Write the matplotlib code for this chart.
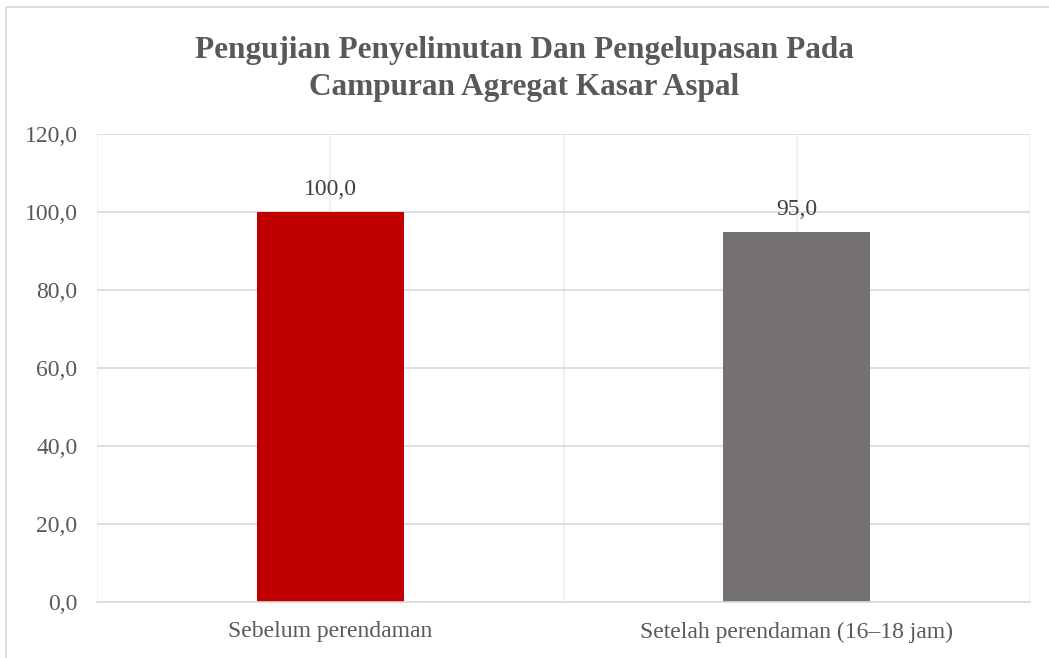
import matplotlib.pyplot as plt
from matplotlib.patches import Rectangle
from matplotlib.ticker import FuncFormatter, MultipleLocator

categories = ["Sebelum perendaman", "Setelah perendaman (16\u201318 jam)"]
values = [100.0, 95.0]
bar_colors = ["#c00000", "#767171"]
title = "Pengujian Penyelimutan Dan Pengelupasan Pada\nCampuran Agregat Kasar Aspal"

plt.rcParams["font.family"] = ["Liberation Serif", "DejaVu Serif"]

fig = plt.figure(figsize=(10.49, 6.58), dpi=100)
ax = fig.add_axes([97 / 1049, 1 - 602 / 658, (1030 - 97) / 1049, (602 - 134) / 658])

x = list(range(len(categories)))
bars = ax.bar(x, values, width=0.315, color=bar_colors, zorder=3)
for xi, v in zip(x, values):
    ax.text(xi, v + 3, f"{v:.1f}".replace(".", ","), ha="center", va="bottom",
            fontsize=17, color="#404040")

ax.set_xlim(-0.5, 1.5)
ax.set_ylim(0, 120)
ax.yaxis.set_major_locator(MultipleLocator(20))
ax.yaxis.set_major_formatter(FuncFormatter(lambda v, p: f"{v:.1f}".replace(".", ",")))
ax.set_xticks(x)
ax.set_xticklabels(categories)

ax.grid(axis="y", which="major", color="#d9d9d9", linewidth=1.2, zorder=0)
for gx in [-0.5, 0, 0.5, 1, 1.5]:
    ax.axvline(gx, color="#eeeeee", linewidth=1.2, zorder=0)
ax.tick_params(axis="both", which="both", length=0, labelsize=17, colors="#595959")
ax.tick_params(axis="y", pad=14)
ax.tick_params(axis="x", pad=14)
for s in ["top", "right", "left"]:
    ax.spines[s].set_visible(False)
ax.spines["bottom"].set_color("#d9d9d9")
ax.spines["bottom"].set_linewidth(1.2)
ax.spines["bottom"].set_zorder(4)

fig.text(0.5, 1 - 69 / 658, title, ha="center", va="center", fontsize=22.5,
         fontweight="bold", color="#595959", linespacing=1.4)

fig.patches.append(Rectangle((6 / 1049, -0.1), 1.2, 1 - 7 / 658 + 0.1,
                             transform=fig.transFigure, fill=False,
                             edgecolor="#d9d9d9", linewidth=1.2))

fig.savefig("out.png", dpi=100)
